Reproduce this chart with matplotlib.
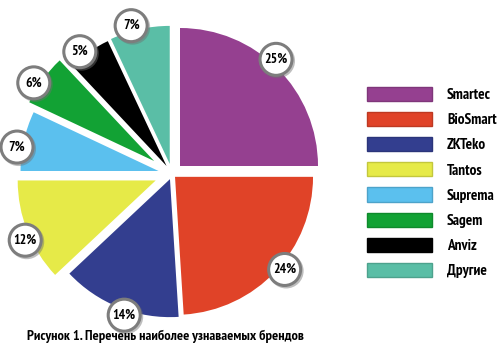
import matplotlib
matplotlib.use('Agg')
import matplotlib.pyplot as plt
import numpy as np
from matplotlib import font_manager
from matplotlib.patches import Circle, Patch
from matplotlib.colors import to_rgb

installed = {f.name for f in font_manager.fontManager.ttflist}
candidates = ['Liberation Sans Narrow', 'Arial Narrow', 'PT Sans Narrow', 'Roboto Condensed',
              'Fira Sans Condensed', 'Open Sans Condensed', 'Liberation Sans']
NARROW = next(f for f in candidates if f in installed)
FONT = [NARROW, 'DejaVu Sans']

brands = ['Smartec', 'BioSmart', 'ZKTeko', 'Tantos', 'Suprema', 'Sagem', 'Anviz', 'Другие']
shares = [25, 24, 14, 12, 7, 6, 5, 7]
colors = ['#954090', '#E04328', '#333E8F', '#E6EA48', '#5BC0EE', '#12A234', '#000000', '#5ABEA6']
explode = [0.082, 0.03, 0.04, 0.127, 0.10, 0.16, 0.07, 0.075]
caption = 'Рисунок 1. Перечень наиболее узнаваемых брендов'

R = 138
W, H = 500, 351


def darker(c, f=0.85):
    r, g, b = to_rgb(c)
    return (r * f, g * f, b * f)


fig = plt.figure(figsize=(5, 3.51), dpi=100)
renderer = fig.canvas.get_renderer()


def fit_size(s, target_px, base=10):
    # font size that makes string s about target_px wide
    t = fig.text(0, 0, s, fontsize=base, fontweight='bold', family=FONT)
    w = t.get_window_extent(renderer).width
    t.remove()
    return base * target_px / w


pct_size = fit_size('25%', 23)
leg_size = fit_size('BioSmart', 50)
cap_size = fit_size(caption, 278)

ax = fig.add_axes([0, 0, 1, 1])

wedges, _, autotexts = ax.pie(
    shares, explode=[e * R for e in explode], colors=colors, startangle=90, counterclock=False,
    radius=R, center=(172, 177), autopct=lambda p: f'{p:.0f}%', pctdistance=1.04,
    wedgeprops=dict(linewidth=0),
    textprops=dict(fontsize=pct_size, fontweight='bold', family=FONT, color='black', zorder=6),
    frame=True)

ax.set_xlim(0, W)
ax.set_ylim(0, H)
ax.set_aspect('equal')
ax.axis('off')

# badges sit a touch counter-clockwise of the wedge middle
rot = np.deg2rad(3)
for t, w in zip(autotexts, wedges):
    cx, cy = w.center
    x, y = t.get_position()
    dx, dy = x - cx, y - cy
    x = cx + dx * np.cos(rot) - dy * np.sin(rot)
    y = cy + dx * np.sin(rot) + dy * np.cos(rot)
    t.set_position((x, y))
    ax.add_patch(Circle((x + 1.5, y - 1.5), 17.5, fc='#707070', ec='none', alpha=0.45, zorder=4))
    ax.add_patch(Circle((x, y), 16, fc='white', ec='#7d7d7d', lw=2.2, zorder=5))

# legend: 65x16 px swatches, 25 px row pitch, text 15 px right of swatch
fs_px = leg_size * 100 / 72
handles = [Patch(facecolor=c, edgecolor=darker(c), linewidth=1) for c in colors]


def make_legend(spacing, anchor):
    return ax.legend(handles, brands, loc='upper left', bbox_to_anchor=anchor,
                     bbox_transform=ax.transAxes, frameon=False,
                     prop=dict(family=FONT, weight='bold', size=leg_size),
                     handlelength=65 / fs_px, handleheight=16 / fs_px, labelspacing=spacing,
                     handletextpad=15 / fs_px, borderpad=0, borderaxespad=0)


anchor = (367 / W, 1 - 87 / H)
spacing = 0.3
leg = make_legend(spacing, anchor)
fig.canvas.draw()
b0 = leg.legend_handles[0].get_window_extent(renderer)
b7 = leg.legend_handles[-1].get_window_extent(renderer)
pitch = (b0.y0 - b7.y0) / 7
spacing += (25.1 - pitch) / fs_px
leg.remove()
leg = make_legend(spacing, anchor)
fig.canvas.draw()
b0 = leg.legend_handles[0].get_window_extent(renderer)
anchor = (anchor[0] + (367 - b0.x0) / W, anchor[1] + ((H - 87) - b0.y1) / H)
leg.set_bbox_to_anchor(anchor, transform=ax.transAxes)

fig.text(27 / W, 15 / H, caption, ha='left', va='center', fontsize=cap_size,
         fontweight='bold', family=FONT)

fig.savefig('out.png', dpi=100)
